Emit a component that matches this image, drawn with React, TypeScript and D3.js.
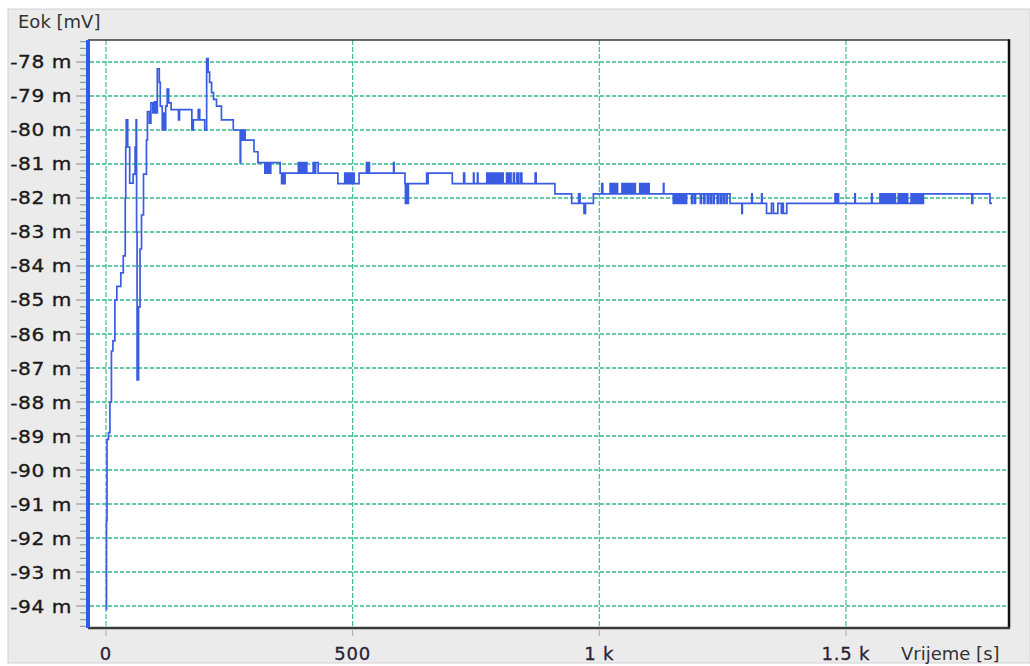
import React from 'react';
import * as d3 from 'd3';

// ---- Axis content ----
const yTicks = [-78, -79, -80, -81, -82, -83, -84, -85, -86, -87, -88, -89, -90, -91, -92, -93, -94];
const yTickLabels = ['-78 m', '-79 m', '-80 m', '-81 m', '-82 m', '-83 m', '-84 m', '-85 m', '-86 m', '-87 m', '-88 m', '-89 m', '-90 m', '-91 m', '-92 m', '-93 m', '-94 m'];
const xTicks = [0, 500, 1000, 1500];
const xTickLabels = ['0', '500', '1 k', '1.5 k'];
const yTitle = 'Eok [mV]';
const xTitle = 'Vrijeme [s]';

// ---- Series: [time s, Eok mV] (step-after samples) ----
const riseSamples: [number, number][] = [
  [0, -94.1], [1, -91.5], [2, -89.1], [5, -88.9], [8, -88.0], [11, -86.5], [14, -86.2], [18, -85.0],
  [22, -84.6], [30, -84.2], [35, -83.7], [39, -82.0], [40, -80.5], [41, -79.7], [44, -80.5], [48, -81.56],
  [55, -81.3], [59, -80.5], [61, -79.7], [62, -83.0], [63, -87.35], [66, -85.2], [69, -83.5], [72, -82.5],
  [76, -81.3], [82, -80.3], [84, -79.46], [88, -79.8], [91, -79.2], [95, -79.5], [98, -79.17], [101, -79.5],
  [104, -78.2], [108, -78.6], [110, -79.3], [114, -80.0], [116, -79.5], [119, -80.0], [121, -79.3], [124, -78.8],
  [127, -79.2], [132, -79.4], [147, -79.7], [149, -79.4], [174, -80.0], [177, -79.7], [187, -79.4], [190, -79.7],
  [200, -80.0], [204, -77.9], [207, -78.3], [210, -78.6], [214, -78.9], [218, -79.1], [224, -79.3], [234, -79.7],
  [258, -80.0],
];

const plateauSamples: [number, number][] = [
  [272, -80.96], [273, -80.0], [276, -80.3], [279, -80.0], [282, -80.3], [300, -80.64], [308, -80.96],
  [322, -81.27], [324, -80.96], [326, -81.27], [329, -80.96], [331, -81.27], [334, -80.96],
  [353, -81.27], [356, -81.58], [358, -81.27], [360, -81.58], [363, -81.27],
  [390, -80.96], [392, -81.27], [394, -80.96], [397, -81.27], [399, -80.96], [402, -81.27], [404, -80.96], [407, -81.27],
  [420, -80.96], [423, -81.27], [425, -80.96], [430, -81.27],
  [470, -81.58], [484, -81.27], [486, -81.58], [489, -81.27], [491, -81.58], [494, -81.27], [497, -81.58], [500, -81.27], [503, -81.58],
  [513, -81.27], [528, -80.96], [530, -81.27], [532, -80.96], [534, -81.27], [583, -80.96], [584, -81.27],
  [606, -81.58], [607, -82.16], [609, -81.58], [611, -82.16], [613, -81.58],
  [650, -81.27], [651, -81.58], [653, -81.27],
  [702, -81.58], [725, -81.27], [727, -81.58], [745, -81.27], [746, -81.58], [753, -81.27], [754, -81.58],
  [772, -81.27], [774, -81.58], [776, -81.27], [779, -81.58], [781, -81.27], [784, -81.58], [786, -81.27], [789, -81.58],
  [791, -81.27], [794, -81.58], [797, -81.27], [800, -81.58], [802, -81.27], [805, -81.58],
  [812, -81.27], [815, -81.58], [818, -81.27], [821, -81.58], [826, -81.27], [828, -81.58], [833, -81.27], [836, -81.58],
  [840, -81.27], [843, -81.58], [870, -81.27], [872, -81.58],
  [910, -81.88], [944, -82.16], [958, -81.88], [961, -82.16], [969, -82.45], [972, -82.16], [988, -81.88],
];

const tailSamples: [number, number][] = [
  [1005, -81.58], [1007, -81.88],
  [1022, -81.58], [1024, -81.88], [1026, -81.58], [1028, -81.88], [1030, -81.58], [1032, -81.88], [1034, -81.58], [1037, -81.88],
  [1046, -81.58], [1048, -81.88], [1050, -81.58], [1052, -81.88], [1054, -81.58], [1056, -81.88], [1058, -81.58], [1060, -81.88],
  [1062, -81.58], [1064, -81.88], [1066, -81.58], [1068, -81.88], [1070, -81.58], [1073, -81.88],
  [1082, -81.58], [1084, -81.88], [1086, -81.58], [1088, -81.88], [1090, -81.58], [1092, -81.88], [1094, -81.58], [1096, -81.88],
  [1098, -81.58], [1101, -81.88],
  [1130, -81.58], [1131, -81.88],
  [1150, -82.16], [1152, -81.88], [1154, -82.16], [1156, -81.88], [1158, -82.16], [1160, -81.88], [1162, -82.16], [1164, -81.88],
  [1166, -82.16], [1168, -81.88], [1170, -82.16], [1172, -81.88], [1174, -82.16], [1177, -81.88],
  [1187, -82.16], [1189, -81.88], [1193, -82.16], [1195, -81.88], [1205, -82.16], [1207, -81.88], [1212, -82.16], [1214, -81.88],
  [1219, -82.16], [1221, -81.88], [1225, -82.16], [1227, -81.88], [1231, -82.16], [1233, -81.88], [1239, -82.16], [1241, -81.88],
  [1245, -82.16], [1247, -81.88], [1251, -82.16], [1253, -81.88], [1257, -82.16], [1259, -81.88],
  [1265, -82.16], [1289, -82.45], [1290, -82.16], [1309, -81.88], [1310, -82.16], [1329, -81.88], [1330, -82.16],
  [1339, -82.45], [1349, -82.16], [1353, -82.45], [1362, -82.16], [1369, -82.45], [1370, -82.16], [1373, -82.45], [1380, -82.16],
  [1478, -81.88], [1480, -82.16], [1482, -81.88], [1485, -82.16], [1518, -81.88], [1519, -82.16], [1552, -81.88], [1553, -82.16],
  [1569, -81.88], [1571, -82.16], [1573, -81.88], [1575, -82.16], [1577, -81.88], [1579, -82.16], [1581, -81.88], [1583, -82.16],
  [1585, -81.88], [1587, -82.16], [1589, -81.88], [1591, -82.16], [1593, -81.88], [1595, -82.16], [1597, -81.88], [1600, -82.16],
  [1606, -81.88], [1608, -82.16], [1610, -81.88], [1612, -82.16], [1614, -81.88], [1616, -82.16], [1618, -81.88], [1620, -82.16],
  [1622, -81.88], [1625, -82.16],
  [1632, -81.88], [1634, -82.16], [1636, -81.88], [1638, -82.16], [1640, -81.88], [1642, -82.16], [1644, -81.88], [1646, -82.16],
  [1648, -81.88], [1650, -82.16], [1652, -81.88], [1654, -82.16], [1657, -81.88],
  [1755, -82.16], [1757, -81.88], [1792, -82.16], [1796, -82.16],
];

const W = 1030;
const H = 666;
const L = 88, R = 1008, T = 40, B = 628;
const FONT = '"DejaVu Sans", Verdana, sans-serif';
const GRID = '#30b88a';

export default function App() {
  const x = d3.scaleLinear().domain([-36.5, 1828.5]).range([L, R]);
  const y = d3.scaleLinear().domain([-94.647, -77.353]).range([B, T]);
  const data = [...riseSamples, ...plateauSamples, ...tailSamples];
  const line = d3
    .line<[number, number]>()
    .x((d) => x(d[0]))
    .y((d) => y(d[1]))
    .curve(d3.curveStepAfter);
  const minorTicks = d3
    .range(0, 87)
    .map((i) => -94.6 + i * 0.2)
    .filter((v) => v < -77.36 && Math.abs(v - Math.round(v)) > 0.05);

  return (
    <svg
      width={W}
      height={H}
      viewBox={`0 0 ${W} ${H}`}
      style={{ position: 'absolute', left: 0, top: 0, display: 'block' }}
    >
      <rect x={0} y={0} width={W} height={H} fill="#ffffff" />
      <rect x={8} y={9} width={W - 8} height={654} fill="#ebebeb" stroke="#d2d2d2" strokeWidth={1} />
      <rect x={L} y={T} width={R - L} height={B - T} fill="#ffffff" />
      <defs>
        <clipPath id="plotClip">
          <rect x={L} y={T} width={R - L} height={B - T} />
        </clipPath>
      </defs>

      {/* grid */}
      <g>
        {yTicks.map((v) => (
          <line key={'hg' + v} x1={L + 2} x2={R} y1={y(v)} y2={y(v)} stroke={GRID} strokeWidth={1.3} strokeDasharray="4,2" />
        ))}
        {xTicks.map((t) => (
          <line key={'vg' + t} x1={x(t)} x2={x(t)} y1={T} y2={B} stroke={GRID} strokeWidth={1.1} strokeDasharray="5,2" />
        ))}
      </g>

      {/* data */}
      <path d={line(data) || ''} fill="none" stroke="#3a5ce2" strokeWidth={1.7} clipPath="url(#plotClip)" />

      {/* frame */}
      <line x1={L} x2={R + 1} y1={T} y2={T} stroke="#3a3a3a" strokeWidth={1.5} />
      <line x1={R + 1} x2={R + 1} y1={T - 0.75} y2={B} stroke="#111" strokeWidth={2.5} />
      <line x1={L} x2={R + 2} y1={B} y2={B} stroke="#3a3a3a" strokeWidth={2.5} />

      {/* y ticks */}
      {minorTicks.map((v, i) => (
        <line key={'mt' + i} x1={80} x2={87} y1={y(v)} y2={y(v)} stroke="#999" strokeWidth={1.2} />
      ))}
      {yTicks.map((v) => (
        <line key={'yt' + v} x1={76} x2={87} y1={y(v)} y2={y(v)} stroke="#999" strokeWidth={1.2} />
      ))}
      <line x1={88} x2={88} y1={T} y2={B} stroke="#2f5ce6" strokeWidth={4} />

      {/* x ticks */}
      {xTicks.map((t) => (
        <line key={'xt' + t} x1={x(t)} x2={x(t)} y1={B + 2} y2={B + 8} stroke="#aaa" strokeWidth={1} />
      ))}

      {/* labels */}
      {yTicks.map((v, i) => (
        <text
          key={'yl' + v}
          transform={`translate(72, ${y(v) + 6.5}) scale(1.12, 1)`}
          textAnchor="end"
          fontFamily={FONT}
          fontSize={18}
          letterSpacing={0.5}
          fill="#1a1a1a"
          stroke="#1a1a1a"
          strokeWidth={0.35}
        >
          {yTickLabels[i]}
        </text>
      ))}
      {xTicks.map((t, i) => (
        <text
          key={'xl' + t}
          x={x(t)}
          y={660}
          textAnchor="middle"
          fontFamily={FONT}
          fontSize={18}
          letterSpacing={0.8}
          fill="#2a2236"
          stroke="#2a2236"
          strokeWidth={0.3}
        >
          {xTickLabels[i]}
        </text>
      ))}
      <text x={18} y={28} fontFamily={FONT} fontSize={18} fill="#333">
        {yTitle}
      </text>
      <text x={901} y={660} fontFamily={FONT} fontSize={18} fill="#333">
        {xTitle}
      </text>
    </svg>
  );
}
